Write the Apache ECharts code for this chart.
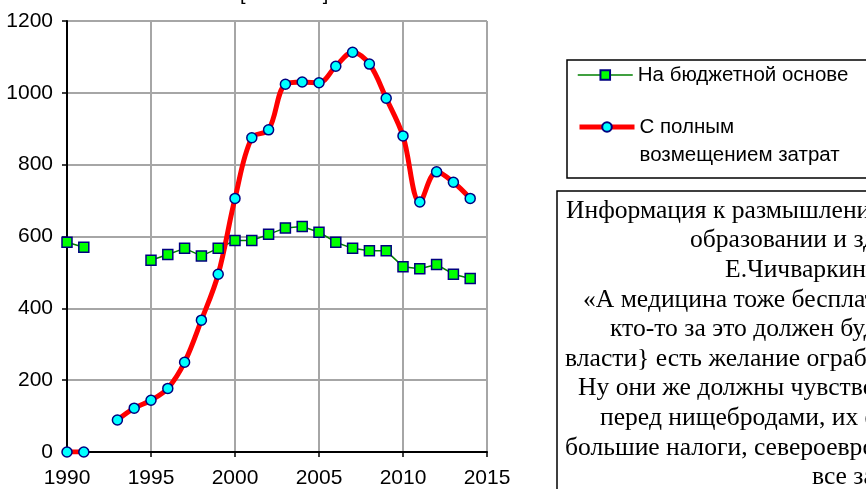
<!DOCTYPE html>
<html lang="ru">
<head>
    <meta charset="UTF-8">
    <title>Chart</title>
    <script src="https://cdn.jsdelivr.net/npm/echarts@6/dist/echarts.min.js"></script>
    <style>
        html, body { margin: 0; padding: 0; background: #fff; }
    </style>
</head>
<body>
    <div id="main" style="width: 866px;height: 489px"></div>
    <script type="text/javascript">
        // годы и значения (читаются с картинки)
        var years = [1990, 1991, 1992, 1993, 1994, 1995, 1996, 1997, 1998, 1999,
            2000, 2001, 2002, 2003, 2004, 2005, 2006, 2007, 2008, 2009,
            2010, 2011, 2012, 2013, 2014];
        var budget = [584, 570, null, null, null, 534, 550, 567, 546, 567,
            589, 589, 606, 624, 628, 612, 584, 567, 560, 560,
            516, 510, 522, 495, 483];
        var paid = [0, 0, null, 89, 122, 144, 177, 250, 367, 495,
            706, 875, 897, 1024, 1030, 1028, 1074, 1113, 1080, 985,
            880, 696, 780, 751, 706];
        var seriesNames = ['На бюджетной основе', 'С полным\nвозмещением затрат'];
        var unitLabel = '[тыс. чел]';
        var noteLines = [
            'Информация к размышлению о платном',
            'образовании и здравоохранении',
            'Е.Чичваркин, 2013:',
            '«А медицина тоже бесплатная? Но',
            'кто-то за это должен будет платить',
            'власти} есть желание ограбить богатых.',
            'Ну они же должны чувствовать вину',
            'перед нищебродами, их обязывают',
            'большие налоги, североевропейские',
            'все за них платят»'
        ];
        var noteX = [566, 690, 725, 583, 610, 565, 578, 600, 565, 812];

        function pairs(vals) {
            return years.map(function (y, i) {
                return [y, vals[i] == null ? '-' : vals[i]];
            });
        }

        var sans = 'Arial, "Liberation Sans", sans-serif';
        var serif = '"Times New Roman", "Liberation Serif", serif';

        var graphics = [
            {
                type: 'text', left: 240, top: -16,
                style: { text: unitLabel, font: '20px ' + sans, fill: '#000' }
            },
            {
                type: 'rect', shape: { x: 567, y: 60, width: 400, height: 118 },
                style: { fill: 'none', stroke: '#000', lineWidth: 1.5 }
            },
            {
                type: 'rect', shape: { x: 557, y: 191, width: 400, height: 400 },
                style: { fill: 'none', stroke: '#000', lineWidth: 1.5 }
            }
        ];
        noteLines.forEach(function (t, i) {
            graphics.push({
                type: 'text', x: noteX[i], y: 211 + i * 29.6,
                style: { text: t, font: '25.6px ' + serif, fill: '#000', verticalAlign: 'middle' }
            });
        });

        var myChart = echarts.init(document.getElementById('main'));
        var option = {
            animation: false,
            grid: { left: 67, top: 21, right: 379, bottom: 37 },
            legend: [
                {
                    data: [seriesNames[0]],
                    left: 577, top: 63, padding: 0,
                    itemWidth: 55, itemHeight: 12,
                    lineStyle: { color: '#008000', width: 1.5 },
                    textStyle: { fontFamily: sans, fontSize: 20.5, lineHeight: 24, color: '#000' }
                },
                {
                    data: [seriesNames[1]],
                    left: 577, top: 85, padding: 0,
                    itemWidth: 55, itemHeight: 12,
                    lineStyle: { color: '#ff0000', width: 5 },
                    // пустая строка сверху, чтобы значок стоял у первой строки подписи
                    formatter: function (name) { return '\n' + name; },
                    textStyle: { fontFamily: sans, fontSize: 20.5, lineHeight: 28, color: '#000' }
                }
            ],
            xAxis: {
                type: 'value', min: 1990, max: 2015, interval: 5,
                axisLine: { lineStyle: { color: '#000', width: 2 } },
                axisTick: { show: true, length: 5, lineStyle: { color: '#000', width: 1.5 } },
                axisLabel: {
                    color: '#000', fontFamily: sans, fontSize: 21, margin: 16,
                    formatter: function (v) { return String(v); }
                },
                splitLine: { show: true, lineStyle: { color: '#a6a6a6', width: 2 } }
            },
            yAxis: {
                type: 'value', min: 0, max: 1200, interval: 200,
                axisLine: { show: true, lineStyle: { color: '#000', width: 2 } },
                axisTick: { show: true, length: 5, lineStyle: { color: '#000', width: 1.5 } },
                axisLabel: {
                    color: '#000', fontFamily: sans, fontSize: 21, margin: 14,
                    formatter: function (v) { return String(v); }
                },
                splitLine: { show: true, lineStyle: { color: '#a6a6a6', width: 2 } }
            },
            series: [
                {
                    name: seriesNames[0],
                    type: 'line',
                    data: pairs(budget),
                    symbol: 'rect', symbolSize: 10,
                    lineStyle: { color: '#008000', width: 1.5 },
                    itemStyle: { color: '#00ff00', borderColor: '#000080', borderWidth: 1.5 },
                    connectNulls: false
                },
                {
                    name: seriesNames[1],
                    type: 'line',
                    data: pairs(paid),
                    symbol: 'circle', symbolSize: 10,
                    smooth: 0.35,
                    lineStyle: { color: '#ff0000', width: 5 },
                    itemStyle: { color: '#00ffff', borderColor: '#000080', borderWidth: 1.5 },
                    connectNulls: false
                }
            ],
            graphic: graphics
        };
        myChart.setOption(option);
    </script>
</body>
</html>
